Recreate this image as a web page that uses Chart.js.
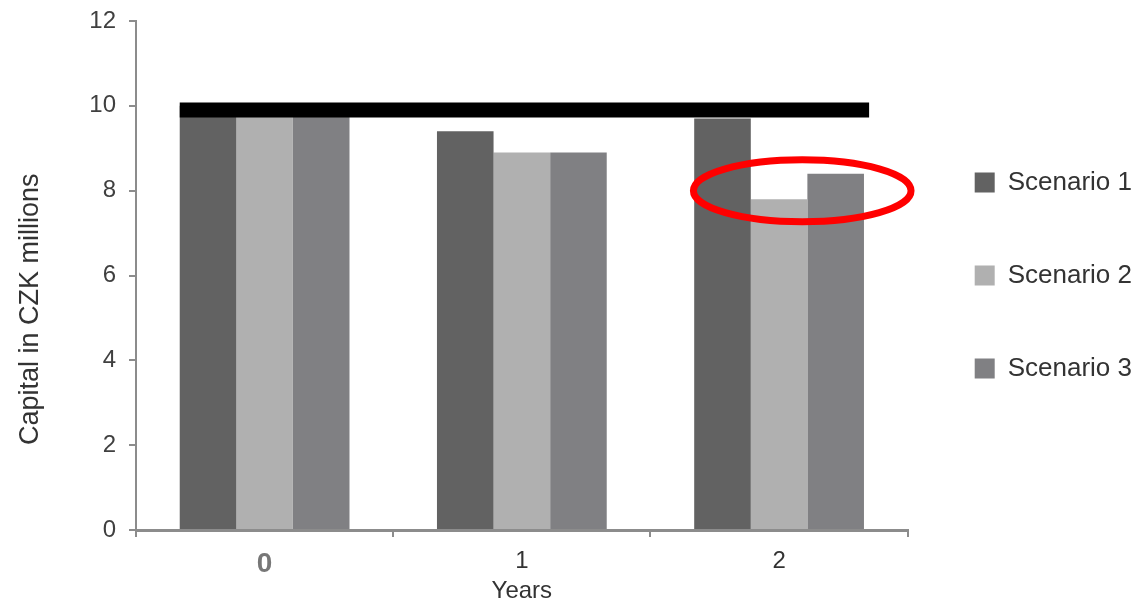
<!DOCTYPE html>
<html><head><meta charset="utf-8">
<script src="https://cdn.jsdelivr.net/npm/chart.js@4/dist/chart.umd.min.js"></script>
<style>html,body{margin:0;padding:0;background:#fff;}</style>
</head><body>
<canvas id="c" width="1142" height="603"></canvas>
<script>
// ---- data ----
const categories = ['0', '1', '2'];
const seriesLabels = ['Scenario 1', 'Scenario 2', 'Scenario 3'];
const scenario1 = [10, 9.4, 9.7];
const scenario2 = [10, 8.9, 7.8];
const scenario3 = [10, 8.9, 8.4];
const yTicks = [0, 2, 4, 6, 8, 10, 12];
// reference line (x in category-index units, y in CZK millions)
const thresholdX = [-0.33, 2.35];
const thresholdY = [9.9, 9.9];
// highlighted region (ellipse) in data units
const highlightX = [1.667, 2.513];
const highlightY = [7.27, 8.73];

const FONT = '"Liberation Sans", Arial, sans-serif';
const colors = ['#626262', '#b0b0b0', '#808083'];
const axisColor = '#8c8c8c';

const highlightPlugin = {
  id: 'highlight',
  afterDatasetsDraw(chart) {
    const xs = chart.scales.x, ys = chart.scales.y, ctx = chart.ctx;
    const xa = xs.getPixelForValue(highlightX[0]), xb = xs.getPixelForValue(highlightX[1]);
    const ya = ys.getPixelForValue(highlightY[0]), yb = ys.getPixelForValue(highlightY[1]);
    ctx.save();
    ctx.beginPath();
    ctx.ellipse((xa + xb) / 2, (ya + yb) / 2, Math.abs(xb - xa) / 2, Math.abs(yb - ya) / 2, 0, 0, Math.PI * 2);
    ctx.lineWidth = 7;
    ctx.strokeStyle = '#ff0000';
    ctx.stroke();
    ctx.restore();
  }
};

const barSeries = [scenario1, scenario2, scenario3];
const datasets = barSeries.map((d, i) => ({
  type: 'bar',
  label: seriesLabels[i],
  data: d.map((v, j) => ({ x: j, y: v })),
  backgroundColor: colors[i],
  borderWidth: 0,
  categoryPercentage: 0.66,
  barPercentage: 1.0,
  order: 1
}));
datasets.push({
  type: 'line',
  label: 'threshold',
  data: thresholdX.map((x, i) => ({ x: x, y: thresholdY[i] })),
  borderColor: '#000000',
  borderWidth: 15,
  borderCapStyle: 'butt',
  pointRadius: 0,
  fill: false,
  order: -1
});

new Chart(document.getElementById('c'), {
  type: 'bar',
  data: { datasets: datasets },
  plugins: [highlightPlugin],
  options: {
    responsive: false,
    animation: false,
    devicePixelRatio: 1,
    layout: { padding: { top: 21, right: 0, bottom: 0, left: 0 } },
    plugins: {
      tooltip: { enabled: false },
      legend: {
        position: 'right',
        align: 'center',
        fullSize: false,
        labels: {
          boxWidth: 20,
          boxHeight: 20,
          padding: 67,
          color: '#333333',
          font: { family: FONT, size: 26 },
          filter: (item) => item.datasetIndex < 3
        }
      }
    },
    scales: {
      x: {
        type: 'linear',
        position: 'bottom',
        min: -0.5,
        max: 2.5,
        offset: false,
        afterBuildTicks: (s) => { s.ticks = categories.map((c, i) => ({ value: i })); },
        afterFit: (s) => { s.height = 73; s.paddingLeft = 0; s.paddingRight = 0; },
        grid: { offset: true, drawOnChartArea: false, drawTicks: true, tickLength: 7, color: axisColor, lineWidth: 2 },
        border: { display: true, color: axisColor, width: 3 },
        ticks: {
          padding: 10,
          autoSkip: false,
          maxRotation: 0,
          callback: (v, i) => categories[i],
          color: (c) => c.index === 0 ? '#777777' : '#333333',
          font: (c) => c.index === 0 ? { family: FONT, size: 28, weight: 'bold' } : { family: FONT, size: 24 }
        },
        title: { display: true, text: 'Years', color: '#333333', font: { family: FONT, size: 24, lineHeight: 1 }, padding: { top: 0, bottom: 0 } }
      },
      y: {
        min: 0,
        max: 12,
        afterBuildTicks: (s) => { s.ticks = yTicks.map(v => ({ value: v })); },
        afterFit: (s) => { s.width = 136; s.paddingTop = 0; s.paddingBottom = 0; },
        grid: { drawOnChartArea: false, drawTicks: true, tickLength: 7, color: axisColor, lineWidth: 2 },
        border: { display: true, color: axisColor, width: 2 },
        ticks: { color: '#404040', font: { family: FONT, size: 24 }, padding: 13 },
        title: { display: true, text: 'Capital in CZK millions         ', color: '#333333', font: { family: FONT, size: 27 }, padding: { top: 14, bottom: 0 } }
      }
    }
  }
});
</script>
</body></html>
